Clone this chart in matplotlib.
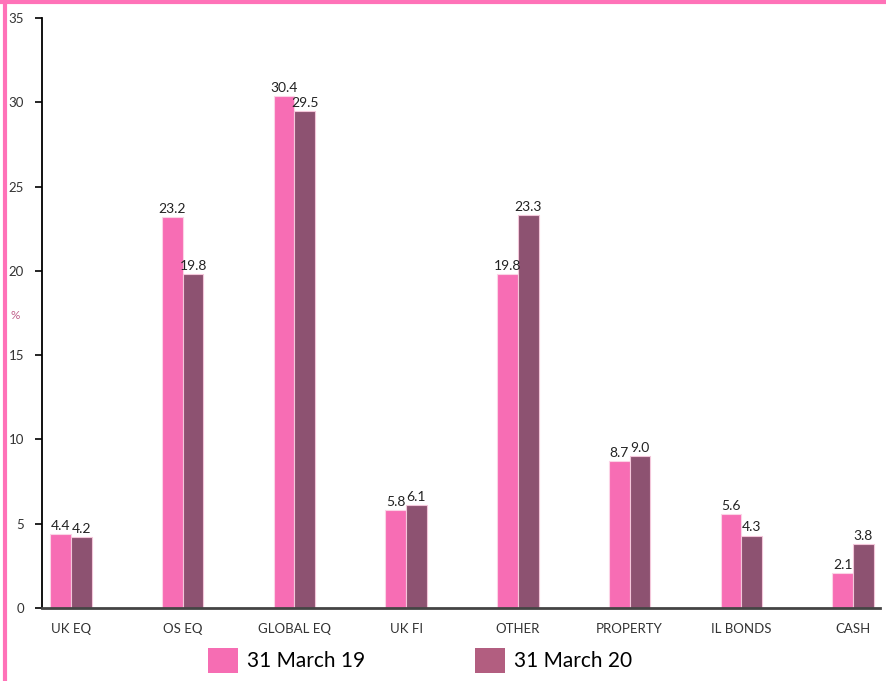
import matplotlib.pyplot as plt
import numpy as np
from matplotlib.patches import Patch
from matplotlib.lines import Line2D

plt.rcParams['font.family'] = ['Lato', 'DejaVu Sans']

categories = ['UK EQ', 'OS EQ', 'GLOBAL EQ', 'UK FI', 'OTHER', 'PROPERTY', 'IL BONDS', 'CASH']
march_19 = [4.4, 23.2, 30.4, 5.8, 19.8, 8.7, 5.6, 2.1]
march_20 = [4.2, 19.8, 29.5, 6.1, 23.3, 9.0, 4.3, 3.8]
series_names = ['31 March 19', '31 March 20']

pink = '#F76DB4'
plum = '#8D5271'
legend_pink = '#F66DB3'
legend_plum = '#B25E80'

fig = plt.figure(figsize=(8.86, 6.81), dpi=100)
ax = fig.add_axes([0.0474, 0.1072, 0.9456, 0.8664])

x = np.arange(len(categories))
w = 0.185
b1 = ax.bar(x - w / 2, march_19, w, color=pink, edgecolor='#FBD3E6', linewidth=0.8)
b2 = ax.bar(x + w / 2, march_20, w, color=plum, edgecolor='#F3C6DA', linewidth=0.8)

for bars, vals in ((b1, march_19), (b2, march_20)):
    for r, v in zip(bars, vals):
        ax.text(r.get_x() + r.get_width() / 2, v + 0.12, f'{v:.1f}',
                ha='center', va='bottom', fontsize=10, color='#222222')

ax.set_xlim(-0.26, 7.24)
ax.set_ylim(0, 35)
ax.set_yticks(range(0, 36, 5))
ax.set_xticks(x)
ax.set_xticklabels(categories)
ax.tick_params(axis='x', length=0, pad=11, labelsize=9.5, colors='#333333')
ax.tick_params(axis='y', length=5, width=1.2, labelsize=9.5, colors='#333333', pad=8)
ax.tick_params(axis='y', color='black')

for s in ('top', 'right'):
    ax.spines[s].set_visible(False)
ax.spines['left'].set_linewidth(1.3)
ax.spines['left'].set_color('black')
ax.spines['bottom'].set_linewidth(2)
ax.spines['bottom'].set_color('#444444')

fig.text(0.017, 0.537, '%', color='#C0608A', fontsize=8.5, ha='center', va='center')

# pink frame along the top and left edge
fig.add_artist(Line2D([0, 1], [0.9975, 0.9975], transform=fig.transFigure, color='#FF72B8', lw=3))
fig.add_artist(Line2D([0.0062, 0.0062], [0, 1], transform=fig.transFigure, color='#FF72B8', lw=3))

handles = [Patch(facecolor=legend_pink), Patch(facecolor=legend_plum)]
fig.legend(handles, series_names, loc='center', bbox_to_anchor=(0.474, 0.03),
           ncol=2, frameon=False, fontsize=15, handlelength=1.45, handleheight=1.45,
           handletextpad=0.4, columnspacing=5.3, borderpad=0)

fig.savefig('out.png', dpi=100)
